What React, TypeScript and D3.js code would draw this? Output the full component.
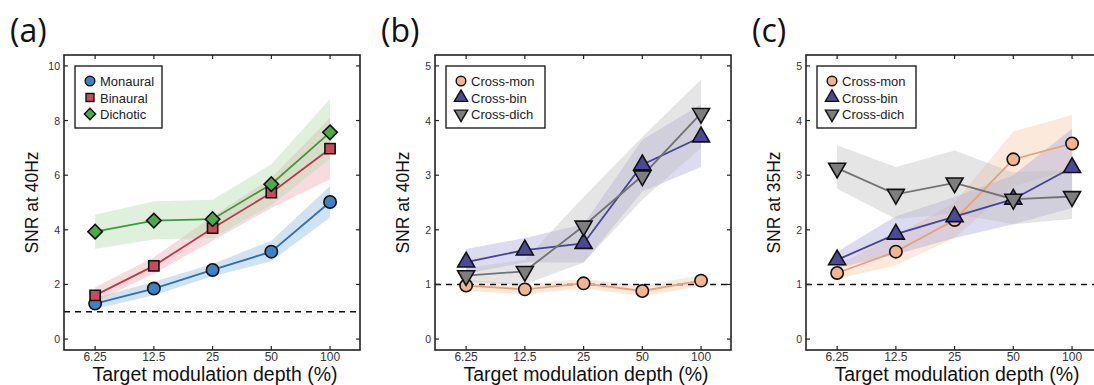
import React, { useRef, useEffect } from "react";
import * as d3 from "d3";

// modulation depths (%) on the x axis
const depths = [6.25, 12.5, 25, 50, 100];
const depthLabels = ["6.25", "12.5", "25", "50", "100"];

// panel (a): SNR at 40Hz
const monaural = [1.3, 1.85, 2.53, 3.2, 5.02];
const monauralLo = [1.1, 1.6, 2.3, 2.85, 4.45];
const monauralHi = [1.5, 2.1, 2.75, 3.6, 5.6];
const binaural = [1.6, 2.68, 4.06, 5.36, 6.97];
const binauralLo = [1.35, 2.4, 3.6, 4.8, 5.85];
const binauralHi = [1.9, 3.0, 4.5, 5.9, 8.1];
const dichotic = [3.93, 4.34, 4.39, 5.67, 7.57];
const dichoticLo = [3.3, 3.65, 3.7, 4.9, 6.6];
const dichoticHi = [4.55, 5.05, 5.1, 6.4, 8.8];

// panel (b): SNR at 40Hz, cross conditions
const bMon = [0.98, 0.91, 1.02, 0.88, 1.07];
const bMonLo = [0.88, 0.82, 0.93, 0.78, 0.97];
const bMonHi = [1.08, 1.01, 1.1, 0.98, 1.17];
const bBin = [1.41, 1.63, 1.75, 3.19, 3.7];
const bBinLo = [1.2, 1.4, 1.4, 2.7, 3.15];
const bBinHi = [1.65, 1.85, 2.1, 3.65, 4.3];
const bDich = [1.16, 1.24, 2.07, 2.99, 4.13];
const bDichLo = [1.05, 1.0, 1.4, 2.55, 3.5];
const bDichHi = [1.3, 1.45, 2.6, 3.7, 4.75];

// panel (c): SNR at 35Hz, cross conditions
const cMon = [1.21, 1.6, 2.18, 3.29, 3.58];
const cMonLo = [1.1, 1.35, 1.85, 2.8, 3.1];
const cMonHi = [1.35, 1.9, 2.5, 3.8, 4.1];
const cBin = [1.45, 1.92, 2.24, 2.56, 3.14];
const cBinLo = [1.3, 1.55, 1.85, 2.1, 2.4];
const cBinHi = [1.6, 2.25, 2.6, 3.0, 3.85];
const cDich = [3.13, 2.65, 2.86, 2.56, 2.61];
const cDichLo = [2.75, 2.2, 2.3, 2.1, 2.2];
const cDichHi = [3.55, 3.15, 3.45, 3.05, 3.1];

const yTicksA = [0, 2, 4, 6, 8, 10];
const yTicksBC = [0, 1, 2, 3, 4, 5];

const FONT = "Liberation Sans, Arimo, Arial, Helvetica, sans-serif";

const makeSeries = (name, vals, lo, hi, shape, fill, line, band) => ({
  name, vals, lo, hi, shape, fill, line, band,
});

const panels = [
  {
    tag: "(a)", left: 64, ylabel: "SNR at 40Hz", ydom: [-0.4, 10.4], yticks: yTicksA,
    legendW: 87,
    series: [
      makeSeries("Monaural", monaural, monauralLo, monauralHi, "circle", "#3f82c4", "#2f6fb3", "#8ab8e2"),
      makeSeries("Binaural", binaural, binauralLo, binauralHi, "square", "#c94a5c", "#b93a4c", "#eda4ad"),
      makeSeries("Dichotic", dichotic, dichoticLo, dichoticHi, "diamond", "#4fa84c", "#3d9a3b", "#b0dcaa"),
    ],
  },
  {
    tag: "(b)", left: 435, ylabel: "SNR at 40Hz", ydom: [-0.2, 5.2], yticks: yTicksBC,
    legendW: 99,
    series: [
      makeSeries("Cross-mon", bMon, bMonLo, bMonHi, "circle", "#f1b58f", "#e8a27a", "#f6c8a8"),
      makeSeries("Cross-bin", bBin, bBinLo, bBinHi, "up", "#4c4a98", "#45439a", "#a8a6d6"),
      makeSeries("Cross-dich", bDich, bDichLo, bDichHi, "down", "#7e7e7e", "#737373", "#bdbdbd"),
    ],
  },
  {
    tag: "(c)", left: 806, ylabel: "SNR at 35Hz", ydom: [-0.2, 5.2], yticks: yTicksBC,
    legendW: 99,
    series: [
      makeSeries("Cross-mon", cMon, cMonLo, cMonHi, "circle", "#f1b58f", "#e8a27a", "#f6c8a8"),
      makeSeries("Cross-bin", cBin, cBinLo, cBinHi, "up", "#4c4a98", "#45439a", "#a8a6d6"),
      makeSeries("Cross-dich", cDich, cDichLo, cDichHi, "down", "#7e7e7e", "#737373", "#bdbdbd"),
    ],
  },
];

const symbolPath = (shape, scale = 1) => {
  if (shape === "circle") return d3.symbol(d3.symbolCircle, 120 * scale * scale)();
  if (shape === "square") return d3.symbol(d3.symbolSquare, 105 * scale * scale)();
  if (shape === "diamond") return d3.symbol(d3.symbolSquare, 105 * scale * scale)();
  return d3.symbol(d3.symbolTriangle, 125 * scale * scale)();
};
const symbolRotate = (shape) => (shape === "diamond" ? 45 : shape === "down" ? 180 : 0);

const App = () => {
  const svgRef = useRef();

  useEffect(() => {
    const svg = d3.select(svgRef.current);
    svg.selectAll("*").remove();

    const top = 55;
    const bottom = 350;
    const w = 296;

    panels.forEach((p) => {
      const x = d3
        .scaleLog()
        .base(2)
        .domain([6.25 / Math.pow(2, 0.53), 100 * Math.pow(2, 0.51)])
        .range([p.left, p.left + w]);
      const y = d3.scaleLinear().domain(p.ydom).range([bottom, top]);

      const g = svg.append("g");

      // confidence bands
      p.series.forEach((s) => {
        const area = d3
          .area()
          .x((d, i) => x(depths[i]))
          .y0((d, i) => y(s.lo[i]))
          .y1((d, i) => y(s.hi[i]));
        g.append("path")
          .attr("d", area(s.vals))
          .attr("fill", s.band)
          .attr("opacity", 0.4);
      });

      // reference line at SNR = 1
      g.append("line")
        .attr("x1", p.left)
        .attr("x2", p.left + w)
        .attr("y1", y(1))
        .attr("y2", y(1))
        .attr("stroke", "#111")
        .attr("stroke-width", 1.4)
        .attr("stroke-dasharray", "6,5");

      // lines
      p.series.forEach((s) => {
        const line = d3
          .line()
          .x((d, i) => x(depths[i]))
          .y((d) => y(d));
        g.append("path")
          .attr("d", line(s.vals))
          .attr("fill", "none")
          .attr("stroke", s.line)
          .attr("stroke-width", 1.8);
      });

      // markers
      p.series.forEach((s) => {
        g.selectAll(null)
          .data(s.vals)
          .enter()
          .append("path")
          .attr("d", symbolPath(s.shape))
          .attr(
            "transform",
            (d, i) => `translate(${x(depths[i])},${y(d)}) rotate(${symbolRotate(s.shape)})`
          )
          .attr("fill", s.fill)
          .attr("stroke", "#111")
          .attr("stroke-width", 1.6);
      });

      // box with inward ticks
      g.append("rect")
        .attr("x", p.left)
        .attr("y", top)
        .attr("width", w)
        .attr("height", bottom - top)
        .attr("fill", "none")
        .attr("stroke", "#222")
        .attr("stroke-width", 1.6);

      const tl = 4;
      depths.forEach((d, i) => {
        g.append("line")
          .attr("x1", x(d)).attr("x2", x(d))
          .attr("y1", bottom).attr("y2", bottom - tl)
          .attr("stroke", "#222").attr("stroke-width", 1.2);
        g.append("line")
          .attr("x1", x(d)).attr("x2", x(d))
          .attr("y1", top).attr("y2", top + tl)
          .attr("stroke", "#222").attr("stroke-width", 1.2);
        g.append("text")
          .attr("x", x(d))
          .attr("y", bottom + 11)
          .attr("text-anchor", "middle")
          .attr("font-family", FONT)
          .attr("font-size", 12)
          .attr("fill", "#333")
          .text(depthLabels[i]);
      });
      p.yticks.forEach((t) => {
        g.append("line")
          .attr("x1", p.left).attr("x2", p.left + tl)
          .attr("y1", y(t)).attr("y2", y(t))
          .attr("stroke", "#222").attr("stroke-width", 1.2);
        g.append("line")
          .attr("x1", p.left + w).attr("x2", p.left + w - tl)
          .attr("y1", y(t)).attr("y2", y(t))
          .attr("stroke", "#222").attr("stroke-width", 1.2);
        g.append("text")
          .attr("x", p.left - 4)
          .attr("y", y(t) + 4)
          .attr("text-anchor", "end")
          .attr("font-family", FONT)
          .attr("font-size", 10.5)
          .attr("fill", "#333")
          .text(t);
      });

      // axis labels
      g.append("text")
        .attr("x", p.left + w / 2 + 3)
        .attr("y", 381)
        .attr("text-anchor", "middle")
        .attr("font-family", FONT)
        .attr("font-size", 19.5)
        .attr("fill", "#111")
        .text("Target modulation depth (%)");
      g.append("text")
        .attr("transform", `translate(${p.left - 26},${(top + bottom) / 2}) rotate(-90)`)
        .attr("text-anchor", "middle")
        .attr("font-family", FONT)
        .attr("font-size", 17.5)
        .attr("fill", "#111")
        .text(p.ylabel);

      // panel tag
      g.append("text")
        .attr("x", p.left - 54)
        .attr("y", 42)
        .attr("font-family", "Open Sans, DejaVu Sans, sans-serif")
        .attr("font-size", 32)
        .attr("fill", "#111")
        .text(p.tag);

      // legend
      const lx = p.left + 11;
      const ly = 66;
      g.append("rect")
        .attr("x", lx)
        .attr("y", ly)
        .attr("width", p.legendW)
        .attr("height", 62)
        .attr("fill", "#fff")
        .attr("stroke", "#222")
        .attr("stroke-width", 1.4);
      p.series.forEach((s, i) => {
        const cy = ly + 15 + i * 16.5;
        g.append("path")
          .attr("d", symbolPath(s.shape, 0.78))
          .attr("transform", `translate(${lx + 15},${cy}) rotate(${symbolRotate(s.shape)})`)
          .attr("fill", s.fill)
          .attr("stroke", "#111")
          .attr("stroke-width", 1.4);
        g.append("text")
          .attr("x", lx + 25)
          .attr("y", cy + 5)
          .attr("font-family", FONT)
          .attr("font-size", 13)
          .attr("fill", "#222")
          .text(s.name);
      });
    });
  }, []);

  return (
    <svg
      ref={svgRef}
      width={1094}
      height={385}
      style={{ position: "absolute", left: 0, top: 0, background: "#fff" }}
    ></svg>
  );
};

export default App;
